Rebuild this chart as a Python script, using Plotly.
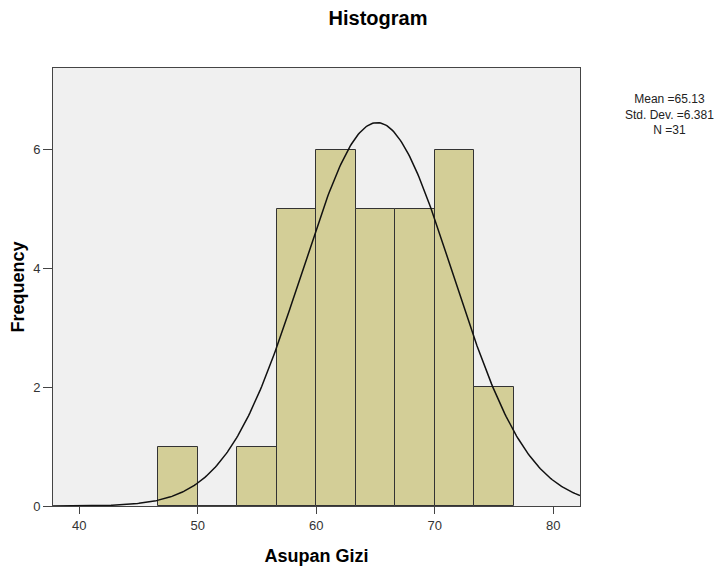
import numpy as np
import plotly.graph_objects as go

# Data
bin_edges = [46.667, 50.0, 53.333, 56.667, 60.0, 63.333, 66.667, 70.0, 73.333, 76.667]
counts = [1, 0, 1, 5, 6, 5, 5, 6, 2]
mean_val = 65.13
std_val = 6.381
n_val = 31
x_ticks = [40, 50, 60, 70, 80]
y_ticks = [0, 2, 4, 6]
stat_lines = [f"Mean ={mean_val:.2f}", f"Std. Dev. ={std_val:.3f}", f"N ={n_val}"]

centers = [(a + b) / 2 for a, b in zip(bin_edges[:-1], bin_edges[1:])]
widths = [b - a for a, b in zip(bin_edges[:-1], bin_edges[1:])]
binw = widths[0]

xr = [37.78, 82.25]
xs = np.linspace(xr[0], xr[1], 400)
ys = n_val * binw / (std_val * np.sqrt(2 * np.pi)) * np.exp(-0.5 * ((xs - mean_val) / std_val) ** 2)

fig = go.Figure()
fig.add_trace(go.Bar(
    x=centers, y=counts, width=widths,
    marker=dict(color="#D3CE97", line=dict(color="#333333", width=1)),
    showlegend=False, hoverinfo="x+y",
))
fig.add_trace(go.Scatter(
    x=xs, y=ys, mode="lines",
    line=dict(color="#111111", width=1.5),
    showlegend=False, hoverinfo="skip",
))

font_family = "Liberation Sans, Arial, sans-serif"

# page body has an 8px margin; plot area in screen coords: x 53..580, y 68..506
L, T, PW, PH = 45, 60, 527, 438
W, H = 722, 567

annots = [dict(
    text="<br>".join(stat_lines),
    xref="paper", yref="paper",
    x=(669 - 53) / PW, y=(506 - 114) / PH,
    xanchor="center", yanchor="middle", align="center", showarrow=False,
    font=dict(size=12, color="#222222", family=font_family),
)]

fig.update_layout(
    width=W, height=H,
    margin=dict(l=L, r=W - L - PW, t=T, b=H - T - PH),
    paper_bgcolor="white",
    plot_bgcolor="#F0F0F0",
    font=dict(family=font_family, color="#222222"),
    bargap=0,
    title=dict(text="<b>Histogram</b>", x=370 / W, xanchor="center",
               y=1 - 10 / H, yanchor="middle", font=dict(size=20, color="#000000")),
    xaxis=dict(
        range=xr, tickvals=x_ticks, ticktext=[str(v) for v in x_ticks],
        showgrid=False, zeroline=False, automargin=False,
        showline=True, linecolor="#444444", linewidth=1, mirror=True,
        ticks="outside", ticklen=7, tickcolor="#444444",
        tickfont=dict(size=13, color="#333333"),
        title=dict(text="<b>Asupan Gizi</b>", font=dict(size=18, color="#000000"), standoff=17),
    ),
    yaxis=dict(
        range=[0, 7.38], tickvals=y_ticks, ticktext=[str(v) for v in y_ticks],
        showgrid=False, zeroline=False, automargin=False,
        showline=True, linecolor="#444444", linewidth=1, mirror=True,
        ticks="outside", ticklen=9, tickcolor="#444444",
        tickfont=dict(size=13, color="#333333"),
        title=dict(text="<b>Frequency</b>", font=dict(size=18, color="#000000"), standoff=6),
    ),
    annotations=annots,
)

fig.write_html("out.html")
